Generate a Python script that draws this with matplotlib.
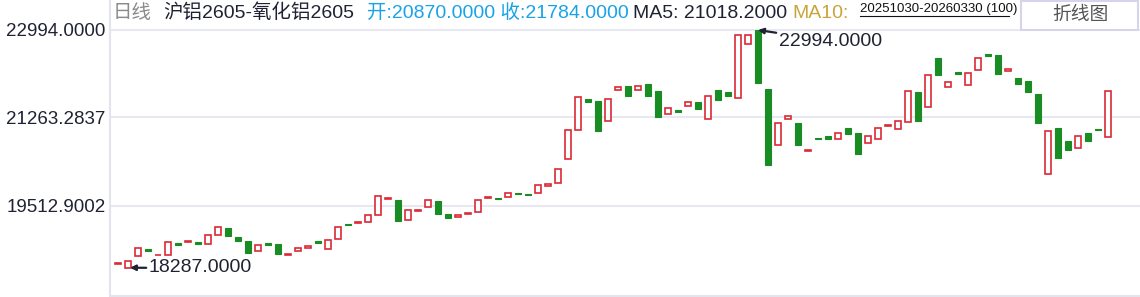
import matplotlib
matplotlib.use('Agg')
import matplotlib.pyplot as plt
from matplotlib.lines import Line2D
from matplotlib.patches import Rectangle

plt.rcParams['font.family'] = ['Liberation Sans', 'Noto Sans CJK SC', 'DejaVu Sans']

# daily open / close, 2025-10-30 .. 2026-03-30 (100 bars)
opens = [18365, 18287, 18520, 18658, 18535, 18540, 18783, 18790, 18796, 18751,
         18929, 19074, 18895, 18816, 18612, 18777, 18757, 18548, 18612, 18684,
         18816, 18652, 18850, 19152, 19167, 19186, 19325, 19655, 19628, 19226,
         19418, 19483, 19608, 19351, 19285, 19360, 19384, 19675, 19668, 19681,
         19766, 19746, 19761, 19899, 19959, 20434, 21008, 21628, 21588, 21186,
         21800, 21885, 21800, 21925, 21786, 21325, 21416, 21483, 21568, 21238,
         21806, 21766, 21654, 22711, 22994, 21826, 20711, 21226, 21153, 20596,
         20855, 20895, 20830, 21054, 20955, 20751, 20830, 21100, 21028, 21166,
         21766, 21463, 22440, 21859, 22162, 21899, 22196, 22519, 22499, 22188,
         22044, 21984, 21727, 20137, 21054, 20796, 20652, 20955, 21034, 20870]
closes = [18380, 18420, 18670, 18612, 18545, 18796, 18743, 18816, 18751, 18929,
          19099, 18921, 18822, 18585, 18731, 18743, 18565, 18558, 18672, 18711,
          18783, 18836, 19087, 19140, 19192, 19325, 19701, 19670, 19218, 19424,
          19430, 19622, 19357, 19278, 19325, 19372, 19622, 19688, 19656, 19761,
          19755, 19736, 19919, 19939, 20236, 21008, 21661, 21574, 21000, 21622,
          21859, 21693, 21879, 21693, 21277, 21444, 21376, 21562, 21436, 21681,
          21614, 21693, 22895, 22895, 21951, 20327, 21147, 21285, 20717, 20612,
          20845, 20842, 20949, 20941, 20533, 20889, 21048, 21114, 21192, 21780,
          21198, 22097, 22109, 21958, 22129, 22137, 22434, 22485, 22129, 22222,
          21931, 21772, 21159, 20988, 20466, 20624, 20889, 20802, 21022, 21784]

ytick_vals = [22994.0, 21263.2837, 19512.9002]
ytick_labels = ['22994.0000', '21263.2837', '19512.9002']
max_val, max_idx = 22994.0, 64
min_val, min_idx = 18287.0, 1

W, H = 1140, 297
UP = '#dc2a35'
DOWN = '#1a8c24'
DARK = '#1f2233'
GRID = '#e4e4f0'

fig = plt.figure(figsize=(W / 100, H / 100), dpi=100)
ax = fig.add_axes([110 / W, 1 / H, 1030 / W, 266 / H])
ax.set_xlim(-0.8, 102.2)
ax.set_ylim(22994 - 266 * 19.8, 22994)

for y in ytick_vals:
    ax.axhline(y, color=GRID, lw=1.2, zorder=0, clip_on=False)

for i, (o, c) in enumerate(zip(opens, closes)):
    lo, hi = min(o, c), max(o, c)
    if c >= o:
        ax.add_patch(Rectangle((i - 0.3, lo), 0.6, hi - lo, facecolor='white',
                               edgecolor=UP, lw=1.2, zorder=2))
    else:
        ax.add_patch(Rectangle((i - 0.33, lo), 0.66, hi - lo, facecolor=DOWN,
                               edgecolor=DOWN, lw=0.8, zorder=2))

for s in ax.spines.values():
    s.set_visible(False)
ax.set_xticks([])
ax.set_yticks(ytick_vals)
ax.set_yticklabels(ytick_labels)
ax.tick_params(axis='y', length=0, pad=3, labelsize=13.5, labelcolor=DARK)

arrow = dict(arrowstyle='-|>', color=DARK, lw=1.6, mutation_scale=8,
             shrinkA=0, shrinkB=0)
ax.annotate('%.4f' % max_val, xy=(max_idx, max_val), xytext=(779, H - 41),
            textcoords='figure pixels', ha='left', va='center', fontsize=14,
            color=DARK, arrowprops=arrow)
ax.annotate('%.4f' % min_val, xy=(min_idx + 0.2, min_val), xytext=(149, H - 268),
            textcoords='figure pixels', ha='left', va='center', fontsize=14,
            color=DARK, arrowprops=arrow)

# frame lines
fig.add_artist(Line2D([110 / W, 110 / W], [0, 1], color=GRID, lw=1.5))
fig.add_artist(Line2D([110 / W, 1], [1 / H, 1 / H], color=GRID, lw=1.5))

# header
def htext(x, s, color, size=14, y=13, **kw):
    fig.text(x / W, 1 - y / H, s, color=color, fontsize=size, ha='left', va='center', **kw)

htext(113, '日线', '#8a8a8a')
htext(163, '沪铝2605-氧化铝2605', DARK)
htext(367, '开:20870.0000 收:21784.0000', '#19a3e6')
htext(633, 'MA5: 21018.2000', DARK)
htext(792, 'MA10:', '#c9a43a')
htext(860, '20251030-20260330 (100)', '#111111', size=9.5, y=9)
fig.add_artist(Line2D([860 / W, 1009 / W], [1 - 16 / H, 1 - 16 / H], color='#111111', lw=0.8))

fig.add_artist(Rectangle((1021 / W, 1 - 30 / H), 117 / W, 29 / H, transform=fig.transFigure,
                         facecolor='white', edgecolor='#d4d4ea', lw=1.5))
fig.text(1080 / W, 1 - 15 / H, '折线图', color='#555555', fontsize=13.5, ha='center', va='center')

fig.savefig('out.png', dpi=100)
